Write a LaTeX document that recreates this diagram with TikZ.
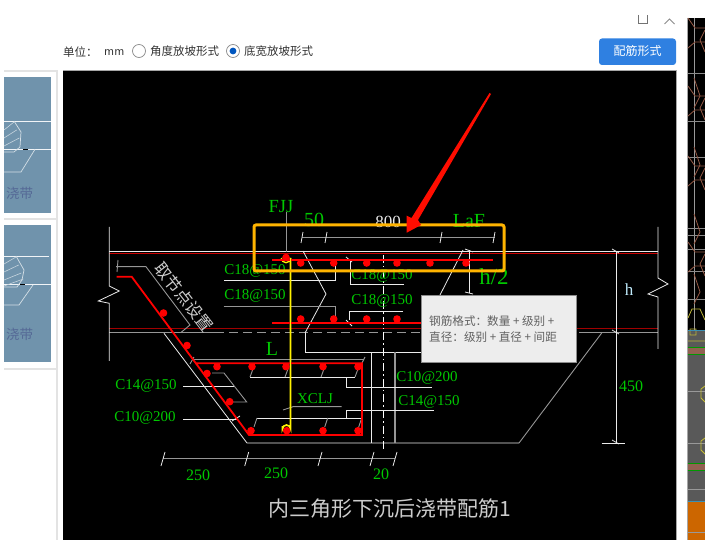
\documentclass[tikz,border=0pt]{standalone}
\usepackage{fontspec}
\setmainfont{Liberation Serif}
\newfontfamily\cjk{Noto Sans CJK SC}
\usetikzlibrary{calc}
\definecolor{cadgreen}{RGB}{0,200,0}
\definecolor{cadgray}{RGB}{150,150,150}
\definecolor{cadwhite}{RGB}{235,235,235}
\definecolor{rebar}{RGB}{255,0,0}
\definecolor{darkbar}{RGB}{160,0,0}
\definecolor{boxorange}{RGB}{255,180,0}
\definecolor{thumb}{RGB}{112,147,172}
\definecolor{thumbink}{RGB}{85,105,150}
\definecolor{brownline}{RGB}{150,90,70}
\tikzset{
  lab/.style={text=cadgreen,inner sep=0pt,font=\fontsize{15}{15}\selectfont},
  biglab/.style={text=cadgreen,inner sep=0pt,font=\fontsize{20}{20}\selectfont},
  wline/.style={draw=cadwhite,line width=0.8pt},
  gline/.style={draw=cadgray,line width=0.9pt},
  bar/.style={draw=rebar,line width=1.8pt},
  dot/.style={fill=rebar,draw=none},
  ui/.style={inner sep=0pt,text=black!80,font=\cjk\fontsize{11.5}{11.5}\selectfont},
  tip/.style={inner sep=0pt,anchor=west,text=black!62,font=\cjk\fontsize{11.6}{11.6}\selectfont},
  thumbtxt/.style={inner sep=0pt,text=thumbink,font=\cjk\fontsize{13.5}{13.5}\selectfont}
}
\begin{document}
\begin{tikzpicture}[x=1pt,y=-1pt]
\useasboundingbox (0,0) rectangle (705,540);
\fill[white] (0,0) rectangle (705,540);
% left thumbnails
\draw[black!11,line width=2pt] (4,71) -- (56.5,71) -- (56.5,540);
\draw[black!11,line width=1.5pt] (4,219) -- (56.5,219);
\draw[black!11,line width=1.5pt] (4,369) -- (56.5,369);
\fill[thumb] (4,77) rectangle (50.7,213);
\fill[thumb] (4,225) rectangle (50.7,362);
\draw[white!90!thumb,line width=.7pt] (4,121) -- (50.7,121) (4,149.3) -- (50.7,149.3);
\draw[white!70!thumb,line width=.7pt] (4,172) -- (21,172) -- (35,149.3)
  (14,121) -- (21,132) -- (20,147) -- (14,152) -- (4,152);
\foreach \d in {0,8,16}{\draw[white!60!thumb,line width=.6pt] (4,130+\d) -- (14+\d/3,122+\d);}
\draw[black,line width=1pt] (23,149.3) -- (28,149.3);
\node[thumbtxt] (t1) at (19.5,193) {浇带};
\draw[white!90!thumb,line width=.7pt] (4,256) -- (49,256) (4,284.7) -- (50.7,284.7);
\draw[white!70!thumb,line width=.7pt] (4,305) -- (19,305) -- (33,285)
  (16,256) -- (24,270) -- (22,280) -- (17,287) -- (4,287);
\foreach \d in {0,8,16,22}{\draw[white!60!thumb,line width=.6pt] (4,264+\d) -- (16+\d/3,257+\d);}
\draw[black,line width=1pt] (20,284.7) -- (25,284.7);
\node[thumbtxt] (t2) at (19.5,334) {浇带};
% top bar
\node[ui,anchor=west] (unit) at (63,52) {单位：};
\node[ui,anchor=west,font=\fontsize{13}{13}\selectfont\sffamily] (mm) at (104,53) {mm};
\draw[black!45,line width=.7pt] (139,51) circle (6.5);
\node[ui,anchor=west] (r1) at (150,51) {角度放坡形式};
\draw[black!45,line width=.7pt] (233,51) circle (6.5);
\fill[blue!55!cyan!75!black] (233,51) circle (3.4);
\node[ui,anchor=west] (r2) at (244,51) {底宽放坡形式};
\fill[rounded corners=3pt,fill={rgb,255:red,47;green,128;blue,225}] (599,38.5) rectangle (676,65);
\node[inner sep=0pt,text=white,font=\cjk\fontsize{12}{12}\selectfont] (btn) at (637.5,51) {配筋形式};
\draw[black!55,line width=.8pt] (638,15) -- (638,23) -- (647,23) -- (647,15);
\draw[black!45,line width=.8pt] (664.5,24) -- (669.5,19) -- (674.5,24);
% main black panel
\fill[black] (63,70) rectangle (676.5,540);
\draw[black!35,line width=.8pt] (63,70) -- (676.5,70) -- (676.5,540);
% right strip
\fill[black] (687.5,18) rectangle (705,331);
\fill[black!65] (687.5,331) rectangle (705,502);
\fill[orange!80!black] (687.5,502) rectangle (705,540);
\draw[black!35,line width=1pt] (687,18) -- (687,540);
\draw[black!40,line width=.8pt] (694,18) -- (694,331);
\foreach \y in {73,121,157,228,235,249,271,299}{\draw[black!45,line width=.7pt] (687.5,\y) -- (705,\y);}
\foreach \y in {28,96,166,252}{\draw[brownline,line width=.8pt] (688,\y-10) -- (695,\y) -- (705,\y);
  \draw[brownline,line width=.8pt] (688,\y+20) -- (695,\y+14) -- (705,\y+14);
  \draw[brownline,line width=.8pt] (705,\y+2) -- (700,\y+12) -- (705,\y+24);}
\foreach \y in {86,155,222,282}{\draw[brownline,line width=.8pt] (694,\y-8) -- (700,\y+10) -- (694,\y+22);}
\draw[yellow!70!black,line width=.8pt] (688,318) -- (692,309) -- (700,309) -- (705,320)
  (690,329) rectangle (696,335) (688,341) -- (705,341);
\draw[cyan!70!black,line width=1pt] (687.5,331) -- (705,331) (687.5,501.5) -- (705,501.5);
\foreach \y in {348,463}{\fill[brownline!80!gray] (687.5,\y) rectangle (705,\y+7);
  \draw[green!60!black,line width=1pt] (687.5,\y) -- (705,\y) (687.5,\y+7) -- (705,\y+7);}
\foreach \y in {391,443,489,532}{\draw[black!40,line width=.7pt] (687.5,\y) -- (705,\y);}
\foreach \y in {395,447}{\draw[yellow!75!black,line width=.8pt] (705,\y-9) -- (701,\y-6) -- (701,\y+3) -- (705,\y+7);}
% slab lines
\draw[wline] (109,251) -- (658,251);
\draw[draw=rebar!80!black,line width=.9pt] (109,253.3) -- (658,253.3);
\draw[draw=darkbar,line width=1.6pt] (109,328.7) -- (658,328.7);
\draw[gline,line width=1pt] (109,333) -- (215,333);
\draw[gline,line width=1pt,dash pattern=on 9pt off 5pt] (215,333) -- (583,333);
\draw[gline,line width=1pt] (583,333) -- (658,333);
% break lines
\draw[wline] (109.3,227) -- (109.3,286) -- (119.3,291) -- (98.3,301) -- (109.3,303.3) -- (109.3,361);
\draw[wline] (658,227) -- (658,278) -- (668,284) -- (648,294) -- (658,297) -- (658,349);
\draw[wline] (303,251) -- (326,294) -- (305,333);
\draw[wline] (463,250) -- (440,295);
% pit outline
\draw[wline] (164,333.3) -- (247,443) -- (519,443);
\draw[gline] (519,443) -- (601.7,333);
\draw[wline] (305,333) -- (305,352.3) -- (421,352.3);
\draw[wline] (371.7,352.3) -- (371.7,443);
\draw[gline,line width=1.1pt] (395,352.3) -- (395,443);
\draw[draw=white,line width=.8pt,dash pattern=on 8pt off 3pt on 1.5pt off 3pt] (383.5,255) -- (383.5,451);
% height dimensions
\draw[wline] (616,251) -- (616,292) -- (616.7,292) -- (616.7,443);
\draw[wline] (601.7,443.3) -- (625,443.3);
\foreach \y in {250,331,441}{\draw[wline] (612,\y-1) -- (619,\y+3);}
\draw[wline] (469,250) -- (469,293);
\draw[wline] (465,292) -- (473,294) (465,249) -- (473,252);
% bottom dimension
\draw[gline,line width=1pt] (163,458) -- (395,458);
\foreach \x in {163,246.7,320,372,395}{\draw[cadwhite,line width=.8pt] (\x-2,466) -- (\x+2,452);}
% top dimension
\draw[gline] (302,237) -- (495,237);
\foreach \x in {302,326,441,494}{\draw[cadwhite,line width=.8pt] (\x-1,243) -- (\x+1,232);}
% stirrup dimension
\draw[gline,line width=1pt] (193,359.3) -- (364,359.3);
\draw[gline] (190,364) -- (194,357) (362,363) -- (365,357);
% slope dimension and leader
\draw[gline] (116,266.7) -- (146,266.7) -- (190,325) -- (180.7,332.7);
\draw[gline] (117,272) -- (118,260);
% leaders
\draw[gline] (286,212) -- (286,252);
\draw[wline] (224.3,280) -- (335,280) -- (335,265);
\draw[gline] (223.7,306.7) -- (335,306.7) -- (335,320);
\draw[wline] (404,284.3) -- (350,284.3) -- (350,260);
\draw[wline] (346,257) -- (352,262);
\draw[wline] (403,311) -- (349,311) -- (349,320);
\draw[wline] (346,320) -- (352,326);
\draw[wline] (183,386) -- (235,386);
\draw[wline] (183,419) -- (237,419);
\draw[wline] (232,421) -- (240,416);
\draw[gline] (212,373) -- (224,373) -- (246.7,402) -- (226,402);
\draw[wline] (250,377.3) -- (355,377.3);
\foreach \x in {250,285,321,355}{\draw[gline] (\x,377) -- (\x+3,369);}
\draw[wline] (346.7,377.3) -- (346.7,387) -- (431.7,387);
\draw[wline] (257,418.3) -- (361.7,418.3);
\foreach \x in {257,327.7,361.7}{\draw[gline] (\x,418) -- (\x-3,427);}
\draw[wline] (346.7,418.3) -- (346.7,410) -- (434,410);
\draw[gline] (283,410) -- (293,406.7) -- (341.7,406.7);
% yellow bar with hooks
\draw[yellow,line width=1.7pt] (290.5,258) -- (290.5,429) arc (0:-180:4) -- (282.5,426);
\draw[yellow,line width=1.3pt] (281.3,258) arc (180:0:4.7);
% rebar
\draw[bar] (116.7,276.7) -- (131.7,276.7) -- (249,435) -- (362,435) -- (362,363.3) -- (195,363.3);
\draw[bar] (272,259.7) -- (493,259.7);
\draw[bar] (272,323) -- (425,323);
\foreach \x in {300.7,333.7,366.7,397,430,466}{\fill[dot] (\x,263) circle (3.8);}
\foreach \x in {300.7,333.7,366.7,397}{\fill[dot] (\x,319) circle (3.8);}
\foreach \x/\y in {163.5/313,187/345.5,207/373.5,229.7/401.7,217/366.7,252/366.7,286/366.7,323/366.7,358/366.7,251/430.7,286.7/430.7,323/430.7,358/430.7}{\fill[dot] (\x,\y) circle (3.8);}
\fill[dot] (286,257.5) circle (3.8);
\draw[yellow,line width=1.7pt] (290.5,258) -- (290.5,422);
% texts
\node[lab,font=\fontsize{18.5}{18.5}\selectfont] (fjj) at (281,207) {FJJ};
\node[biglab] (n50) at (314,220) {50};
\node[lab,text=cadwhite,font=\fontsize{17}{17}\selectfont] (n800) at (388,222) {800};
\node[biglab,font=\fontsize{20}{20}\selectfont] (laf) at (469,221) {LaF};
\node[biglab,font=\fontsize{23}{23}\selectfont] (h2) at (494,277) {h/2};
\node[lab,text=white!75!cyan,font=\fontsize{17}{17}\selectfont] (hh) at (629,290) {h};
\node[lab,font=\fontsize{16}{16}\selectfont] (n450) at (631,386) {450};
\node[lab] (c1) at (255,270.5) {C18@150};
\node[lab] (c2) at (255,296) {C18@150};
\node[lab] (c3) at (382,276) {C18@150};
\node[lab] (c4) at (382,301) {C18@150};
\node[biglab] (ll) at (272,349) {L};
\node[lab] (xclj) at (315,399) {XCLJ};
\node[lab] (c5) at (146,386) {C14@150};
\node[lab] (c6) at (145,418) {C10@200};
\node[lab] (c7) at (427,378) {C10@200};
\node[lab] (c8) at (429,402) {C14@150};
\node[lab,font=\fontsize{16}{16}\selectfont] (d1) at (198,475) {250};
\node[lab,font=\fontsize{16}{16}\selectfont] (d2) at (276,473) {250};
\node[lab,font=\fontsize{16}{16}\selectfont] (d3) at (381,474) {20};
\node[inner sep=0pt,text=black!20,rotate=-52,font=\cjk\fontsize{16.5}{16.5}\selectfont] (qj) at (184,297) {取节点设置};
\node[inner sep=0pt,text=black!20,font=\cjk\fontsize{21}{21}\selectfont] (title) at (389.5,509) {内三角形下沉后浇带配筋1};
% highlight box and arrow
\draw[boxorange,line width=3pt,rounded corners=2pt] (254,225) rectangle (504,271);
\fill[rebar!90!orange] (491,94) -- (418,220) -- (421,225) -- (406.7,232.7) -- (406.7,215.7) -- (411.5,218) -- (489.5,93) -- cycle;
% tooltip
\fill[black!7] (421,295.5) rectangle (576,362.5);
\draw[black!45,line width=.7pt] (421,295.5) rectangle (576,362.5);
\node[tip] (tp1) at (429,321) {钢筋格式：数量 + 级别 +};
\node[tip] (tp2) at (429,337) {直径：级别 + 直径 + 间距};
\end{tikzpicture}
\end{document}
